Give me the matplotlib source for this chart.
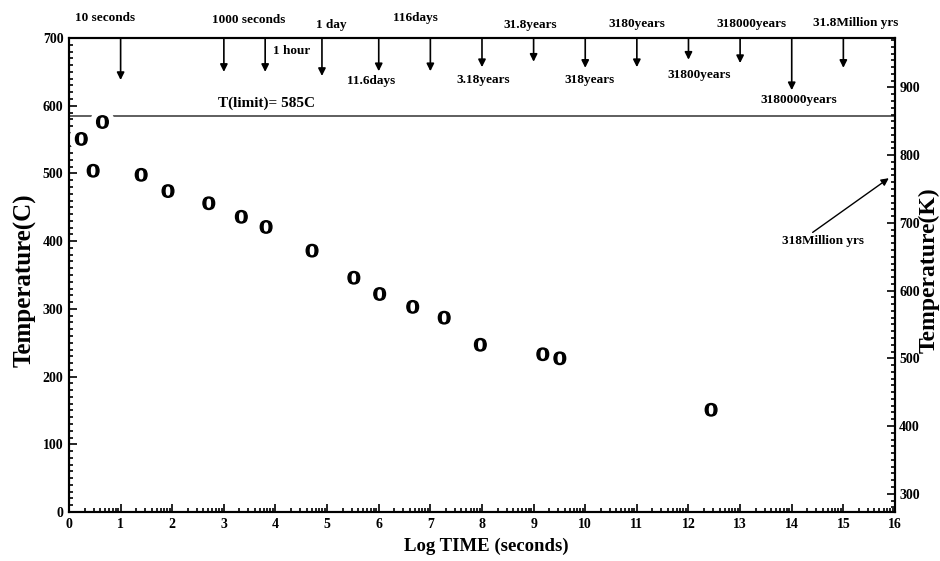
import numpy as np
import matplotlib
matplotlib.use("Agg")
import matplotlib.pyplot as plt
from matplotlib.ticker import MultipleLocator, FixedLocator
from matplotlib.textpath import TextPath
from matplotlib.font_manager import FontProperties
from matplotlib.path import Path
import matplotlib.patheffects as pe

plt.rcParams['font.family'] = ['Liberation Serif', 'DejaVu Serif']
plt.rcParams['font.weight'] = 'bold'
plt.rcParams['axes.labelweight'] = 'bold'

# measured temperatures (C) against log10 of time in seconds
log_time = [0.23, 0.64, 0.46, 1.39, 1.91, 2.70, 3.33, 3.81, 4.70, 5.51,
            6.01, 6.65, 7.26, 7.96, 9.17, 9.50, 12.43]
temp_c = [551, 576, 504, 498, 474, 456, 436, 421, 386, 346,
          322, 303, 287, 247, 233, 227, 151]
t_limit = 585

# time markers along the top of the chart
event_x = [1, 3, 3.8, 4.9, 6, 7, 8, 9, 10, 11, 12, 13, 14, 15]
event_tip = [638, 650, 650, 644, 651, 651, 657, 665, 656, 657, 668, 663, 623, 656]
event_labels = ['10 seconds', '1000 seconds', '1 hour', '1 day', '11.6days',
                '116days', '3.18years', '31.8years', '318years', '3180years',
                '31800years', '318000years', '3180000years', '31.8Million yrs']
# where each label sits (x, temperature)
label_pos = [(0.69, 730), (3.49, 727), (4.32, 681), (5.09, 719), (5.86, 637),
             (6.72, 730), (8.03, 638), (8.94, 719), (10.08, 638), (11.0, 721),
             (12.2, 645), (13.22, 721), (14.14, 609), (15.24, 722)]

# letter "O" used as the point marker
fp = FontProperties(family='Liberation Serif', weight='bold')
tp = TextPath((0, 0), 'O', prop=fp)
v = tp.vertices.copy()
v -= (v.max(axis=0) + v.min(axis=0)) / 2
v[:, 1] *= 1.08
o_marker = Path(v, tp.codes)

fig = plt.figure(figsize=(9.4, 5.61), dpi=100)
ax = fig.add_axes([0.0734, 0.0873, 0.8787, 0.8449])

ax.axhline(t_limit, color='#333333', lw=1.1, zorder=1)
ax.text(3.82, 604, 'T(limit)= 585C', fontsize=11, ha='center', va='center')

pts = ax.plot(log_time, temp_c, ls='none', marker=o_marker,
              ms=9, color='black', zorder=3)[0]
pts.set_path_effects([pe.Stroke(linewidth=9, foreground='white'), pe.Normal()])

# arrows
for x, tip in zip(event_x, event_tip):
    ax.annotate('', xy=(x, tip), xytext=(x, 700),
                arrowprops=dict(arrowstyle='-|>', color='black', lw=1.2,
                                mutation_scale=11, shrinkA=0, shrinkB=0),
                annotation_clip=False)
for lab, (lx, ly) in zip(event_labels, label_pos):
    ax.text(lx, ly, lab, fontsize=9.5, ha='center', va='center', clip_on=False)

ax.annotate('318Million yrs', xy=(15.88, 493), xytext=(14.6, 400),
            fontsize=9.5, ha='center', va='center',
            arrowprops=dict(arrowstyle='-|>', color='black', lw=1.0,
                            mutation_scale=11, shrinkA=0, shrinkB=0,
                            relpos=(0.33, 1.0)))

ax.set_xlim(0, 16)
ax.set_ylim(0, 700)
ax.xaxis.set_major_locator(MultipleLocator(1))
minor_x = [d + np.log10(k) for d in range(16) for k in range(2, 10)]
ax.xaxis.set_minor_locator(FixedLocator(minor_x))
ax.yaxis.set_major_locator(MultipleLocator(100))
ax.yaxis.set_minor_locator(MultipleLocator(10))
ax.tick_params(which='both', direction='in', top=False, right=False,
               labelsize=10, width=1.2)
ax.tick_params(which='major', length=6, pad=4)
ax.tick_params(which='minor', length=3)
for s in ax.spines.values():
    s.set_linewidth(1.5)

ax.set_xlabel('Log TIME (seconds)', fontsize=13.5)
ax.xaxis.set_label_coords(0.505, -0.055)
ax.set_ylabel('Temperature(C)', fontsize=18)
ax.yaxis.set_label_coords(-0.039, 0.49)

# Kelvin axis on the right
ax2 = ax.twinx()
ax2.set_ylim(0 + 273, 700 + 273)
ax2.yaxis.set_major_locator(MultipleLocator(100))
ax2.yaxis.set_minor_locator(MultipleLocator(10))
ax2.tick_params(which='both', direction='in', labelsize=10, width=1.2)
ax2.tick_params(which='major', length=6, pad=3)
ax2.tick_params(which='minor', length=3)
ax2.set_ylabel('Temperature(K)', fontsize=17)
ax2.yaxis.set_label_coords(1.028, 0.51)
for s in ax2.spines.values():
    s.set_linewidth(1.5)

fig.savefig('out.png', dpi=100)
